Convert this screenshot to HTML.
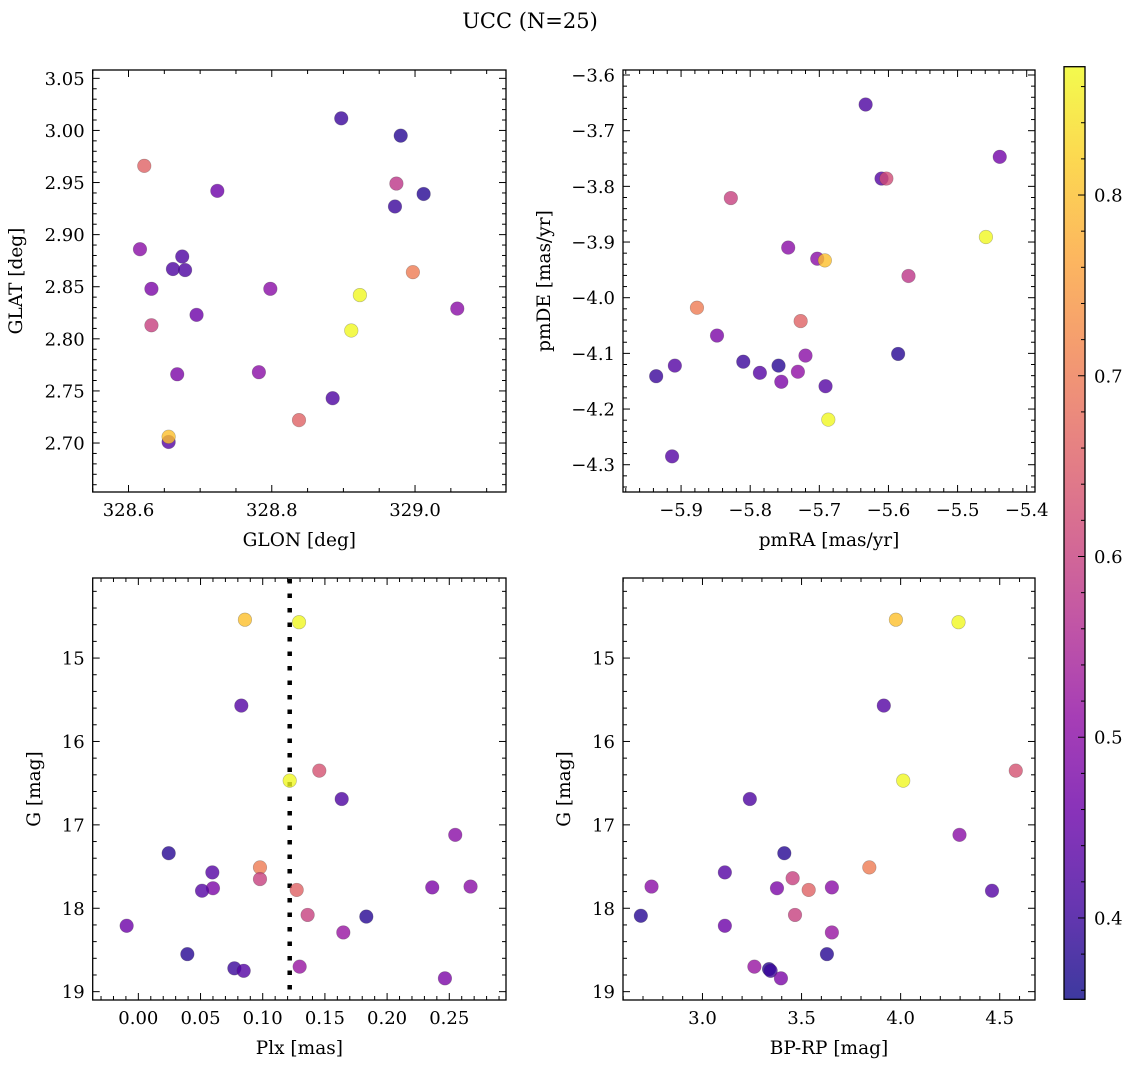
<!DOCTYPE html>
<html><head><meta charset="utf-8"><title>UCC (N=25)</title>
<style>
html,body{margin:0;padding:0;background:#fff;}
svg{display:block;font-family:"DejaVu Serif","Liberation Serif",serif;}
</style></head>
<body>
<svg id="fig" width="1136" height="1067" viewBox="0 0 1136 1067" xmlns="http://www.w3.org/2000/svg">
<text x="530" y="28" font-size="21" text-anchor="middle">UCC (N=25)</text>
</svg>
<script>
// ---- data ----
const glon = [328.897,328.980,328.622,328.974,329.012,328.724,328.972,328.616,328.675,328.662,328.679,328.997,328.632,328.798,328.923,329.059,328.695,328.911,328.632,328.668,328.782,328.885,328.838,328.656,328.656];
const glat = [3.0116,2.995,2.966,2.949,2.939,2.942,2.927,2.886,2.879,2.867,2.866,2.864,2.848,2.848,2.842,2.829,2.823,2.808,2.813,2.766,2.768,2.743,2.722,2.701,2.706];
const cGal = [0.40,0.38,0.66,0.58,0.38,0.46,0.40,0.50,0.42,0.42,0.42,0.70,0.48,0.50,0.87,0.50,0.46,0.87,0.60,0.48,0.50,0.42,0.66,0.43,0.80];

const pmra = [-5.633,-5.439,-5.610,-5.603,-5.828,-5.459,-5.745,-5.703,-5.692,-5.571,-5.877,-5.727,-5.848,-5.586,-5.720,-5.909,-5.810,-5.759,-5.786,-5.731,-5.936,-5.755,-5.691,-5.687,-5.913];
const pmde = [-3.653,-3.747,-3.786,-3.786,-3.821,-3.891,-3.910,-3.930,-3.933,-3.961,-4.018,-4.042,-4.068,-4.101,-4.104,-4.122,-4.115,-4.122,-4.135,-4.133,-4.141,-4.151,-4.159,-4.219,-4.285];
const cPm = [0.42,0.47,0.43,0.62,0.60,0.87,0.50,0.50,0.80,0.58,0.70,0.66,0.48,0.38,0.50,0.43,0.40,0.38,0.43,0.51,0.40,0.48,0.43,0.87,0.43];

const plx = [0.0857,0.1292,0.0828,0.1455,0.1217,0.1635,0.2548,0.0244,0.0978,0.0595,0.0978,0.0600,0.0512,0.1273,0.2363,0.2671,0.1361,0.1833,0.1648,-0.0094,0.0394,0.0772,0.0847,0.1297,0.2465];
const gmag = [14.54,14.57,15.57,16.35,16.47,16.69,17.12,17.34,17.51,17.57,17.65,17.76,17.79,17.78,17.75,17.74,18.08,18.10,18.29,18.21,18.55,18.72,18.75,18.70,18.84];
const cPlx = [0.80,0.87,0.43,0.63,0.87,0.42,0.50,0.38,0.70,0.43,0.60,0.48,0.43,0.66,0.48,0.50,0.60,0.38,0.52,0.46,0.38,0.40,0.43,0.52,0.48];

const bprp = [3.976,4.292,3.915,4.581,4.013,3.239,4.297,3.413,3.842,3.113,3.455,3.376,3.653,3.536,2.743,4.461,3.467,2.689,3.653,3.113,3.628,3.336,3.344,3.262,3.396];
const gmag2 = [14.54,14.57,15.57,16.35,16.47,16.69,17.12,17.34,17.51,17.57,17.64,17.76,17.75,17.78,17.74,17.79,18.08,18.09,18.29,18.21,18.55,18.73,18.75,18.70,18.84];
const cCmd = [0.80,0.87,0.43,0.63,0.87,0.42,0.50,0.38,0.70,0.43,0.60,0.48,0.50,0.66,0.50,0.43,0.60,0.38,0.52,0.46,0.38,0.38,0.40,0.52,0.48];

const plxLine = [0.1217];
const cbTicks = [0.4,0.5,0.6,0.7,0.8];

// ---- helpers ----
const NS='http://www.w3.org/2000/svg';
const svg=document.getElementById('fig');
function mk(tag,attrs,parent){const e=document.createElementNS(NS,tag);for(const k in attrs)e.setAttribute(k,attrs[k]);(parent||svg).appendChild(e);return e;}
const stops=[[13,8,135],[65,4,157],[106,0,168],[143,13,164],[177,42,144],[204,71,120],[225,100,98],[242,132,75],[252,166,54],[252,206,37],[240,249,33]];
function plasma(t){t=Math.max(0,Math.min(1,t));const p=t*10,i=Math.min(9,Math.floor(p)),f=p-i;const a=stops[i],b=stops[i+1];return 'rgb('+[0,1,2].map(k=>Math.round(a[k]+(b[k]-a[k])*f)).join(',')+')';}
const VMIN=0.355,VMAX=0.871;
function fmt(v,d){const s=Math.abs(v).toFixed(d);return (v<-1e-9?'\u2212':'')+s;}

function panel(o){
  const {name,L,R,T,B,x0,x1,y0,y1,xMaj,xMin,xDec,yMaj,yMin,yDec,xs,ys,cs,xlabel,ylabel,ylabelX}=o;
  const g=mk('g',{});
  
  
  const sx=v=>L+(v-x0)/(x1-x0)*(R-L);
  const sy=v=>T+(v-y0)/(y1-y0)*(B-T);
  o.sx=sx;o.sy=sy;o.g=g;
  // ticks
  const tg=mk('g',{stroke:'#000','stroke-width':1},g);
  
  
  const xlo=Math.min(x0,x1),xhi=Math.max(x0,x1),ylo=Math.min(y0,y1),yhi=Math.max(y0,y1);
  for(let k=Math.ceil(xlo/xMin-1e-6);k*xMin<=xhi+1e-9;k++){
    const v=k*xMin;const X=sx(v);const isMaj=Math.abs(v/xMaj-Math.round(v/xMaj))<1e-6;const len=isMaj?7:4;
    mk('line',{x1:X,x2:X,y1:B,y2:B-len},tg);mk('line',{x1:X,x2:X,y1:T,y2:T+len},tg);
    if(isMaj){const t=mk('text',{x:X,y:B+24,'font-size':18,'text-anchor':'middle',stroke:'none'},g);t.textContent=fmt(v,xDec);
      
      }
  }
  for(let k=Math.ceil(ylo/yMin-1e-6);k*yMin<=yhi+1e-9;k++){
    const v=k*yMin;const Y=sy(v);const isMaj=Math.abs(v/yMaj-Math.round(v/yMaj))<1e-6;const len=isMaj?7:4;
    mk('line',{x1:L,x2:L+len,y1:Y,y2:Y},tg);mk('line',{x1:R,x2:R-len,y1:Y,y2:Y},tg);
    if(isMaj){const t=mk('text',{x:L-8,y:Y+6.5,'font-size':18,'text-anchor':'end'},g);t.textContent=fmt(v,yDec);
      
      }
  }
  const xl=mk('text',{x:(L+R)/2,y:B+54,'font-size':18.5,'text-anchor':'middle'},g);xl.textContent=xlabel;
  
  
  const yc=(T+B)/2;
  const yl=mk('text',{x:ylabelX,y:yc,'font-size':18.5,'text-anchor':'middle',transform:'rotate(-90 '+ylabelX+' '+yc+')'},g);yl.textContent=ylabel;
  
  
  // clip
  const cid='clip-'+name;
  const cp=mk('clipPath',{id:cid},g);mk('rect',{x:L,y:T,width:R-L,height:B-T},cp);
  const pg=mk('g',{'clip-path':'url(#'+cid+')'},g);
  
  
  o.pg=pg;
  if(o.vline){for(const v of o.vline){const ln=mk('line',{x1:sx(v),x2:sx(v),y1:T+1,y2:B,stroke:'#000','stroke-width':4.5,'stroke-dasharray':'4.5 10'},pg);
    
    }}
  for(let i=0;i<xs.length;i++){
    const c=mk('circle',{cx:sx(xs[i]),cy:sy(ys[i]),r:6.8,fill:plasma((cs[i]-VMIN)/(VMAX-VMIN)),'fill-opacity':0.8,stroke:'rgba(60,60,60,0.35)','stroke-width':0.6},pg);
    
    
  }
  const fr=mk('rect',{x:L,y:T,width:R-L,height:B-T,fill:'none',stroke:'#000','stroke-width':1.3},g);
  
  
}

panel({name:'glon-glat-panel',L:92.7,R:506,T:70,B:492,x0:328.550,x1:329.127,y0:3.058,y1:2.653,xMaj:0.2,xMin:0.05,xDec:1,yMaj:0.05,yMin:0.01,yDec:2,xs:glon,ys:glat,cs:cGal,xlabel:'GLON [deg]',ylabel:'GLAT [deg]',ylabelX:22});
panel({name:'pm-panel',L:623,R:1035,T:70,B:492,x0:-5.984,x1:-5.388,y0:-3.591,y1:-4.349,xMaj:0.1,xMin:0.02,xDec:1,yMaj:0.1,yMin:0.02,yDec:1,xs:pmra,ys:pmde,cs:cPm,xlabel:'pmRA [mas/yr]',ylabel:'pmDE [mas/yr]',ylabelX:550});
panel({name:'plx-g-panel',L:92.7,R:506,T:578,B:1000,x0:-0.0367,x1:0.2956,y0:14.04,y1:19.10,xMaj:0.05,xMin:0.01,xDec:2,yMaj:1,yMin:0.2,yDec:0,xs:plx,ys:gmag,cs:cPlx,xlabel:'Plx [mas]',ylabel:'G [mag]',ylabelX:40,vline:plxLine});
panel({name:'cmd-panel',L:623,R:1035,T:578,B:1000,x0:2.599,x1:4.678,y0:14.04,y1:19.10,xMaj:0.5,xMin:0.1,xDec:1,yMaj:1,yMin:0.2,yDec:0,xs:bprp,ys:gmag2,cs:cCmd,xlabel:'BP-RP [mag]',ylabel:'G [mag]',ylabelX:570});

// colorbar
(function(){
  const L=1064,R=1085,T=66.7,B=999.3;
  const g=mk('g',{});
  
  
  const defs=mk('defs',{},g);
  const lg=mk('linearGradient',{id:'cbgrad',x1:0,y1:1,x2:0,y2:0},defs);
  for(let i=0;i<=20;i++){mk('stop',{offset:i/20,'stop-color':plasma(i/20)},lg);}
  mk('rect',{x:L,y:T,width:R-L,height:B-T,fill:'url(#cbgrad)','fill-opacity':0.8},g);
  const sy=v=>B-(v-VMIN)/(VMAX-VMIN)*(B-T);
  for(let k=Math.ceil(VMIN/0.02);k*0.02<=VMAX;k++){
    const v=k*0.02;const Y=sy(v);const maj=Math.abs(v*10-Math.round(v*10))<1e-6;
    mk('line',{x1:R,x2:R-(maj?7:4),y1:Y,y2:Y,stroke:'#000','stroke-width':1},g);
  }
  for(const v of cbTicks){const t=mk('text',{x:1094,y:sy(v)+6.5,'font-size':18},g);t.textContent=v.toFixed(1);
    
    }
  mk('rect',{x:L,y:T,width:R-L,height:B-T,fill:'none',stroke:'#000','stroke-width':1.3},g);
})();
</script>
</body></html>
